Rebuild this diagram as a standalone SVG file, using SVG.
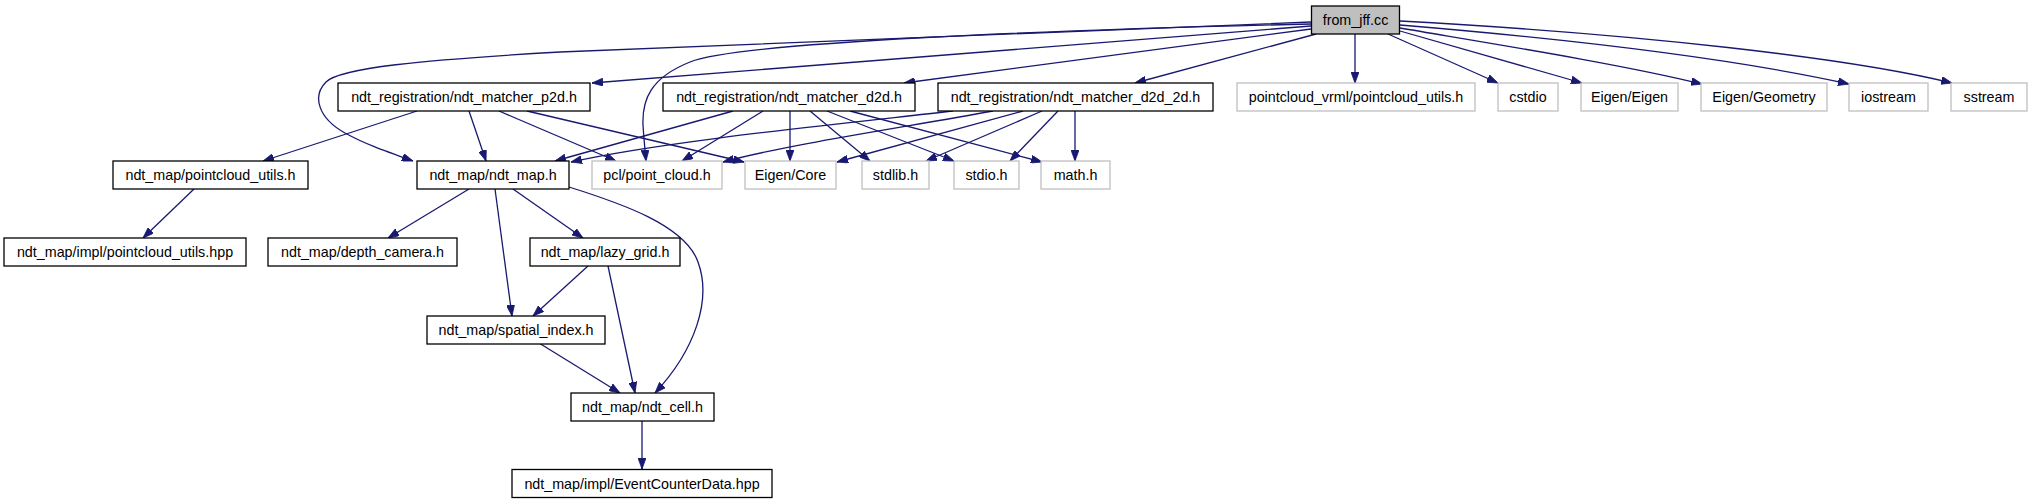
<svg xmlns="http://www.w3.org/2000/svg" width="2032" height="504" viewBox="0 0 2032 504">
<style>
.n rect{fill:#fff;stroke:#000;stroke-width:1.3}
.g rect{fill:#fff;stroke:#bfbfbf;stroke-width:1.3}
.r rect{fill:#bfbfbf;stroke:#000;stroke-width:1.3}
text{font-family:"Liberation Sans",Arial,sans-serif;font-size:14.3px;fill:#000;text-anchor:middle}
#edges path{fill:none;stroke:#191970;stroke-width:1.3;marker-end:url(#ah)}
</style>
<defs>
<marker id="ah" viewBox="0 0 11 8" refX="11" refY="4" markerWidth="11" markerHeight="8" markerUnits="userSpaceOnUse" orient="auto">
<path d="M0,0 L11,4 L0,8 z" fill="#191970" stroke="#191970" stroke-width="0.8"/>
</marker>
</defs>
<rect width="2032" height="504" fill="#fff"/>
<g id="edges">
<path d="M1311,22 L560,52 C420,60 340,68 326,82 C312,96 318,118 345,133 C365,144 385,151 413,161"/>
<path d="M1311,26 L592,83"/>
<path d="M1311,24 C1050,30 740,42 690,62 C650,78 642,100 643,125 C644,140 645,150 646,161"/>
<path d="M1311,29 L904,83"/>
<path d="M1316,34 L1135,83"/>
<path d="M1355,34 L1355,83"/>
<path d="M1388,34 L1498,83"/>
<path d="M1400,31 L1582,83"/>
<path d="M1400,28 C1500,45 1620,64 1702,84"/>
<path d="M1400,25 C1580,40 1740,60 1849,84"/>
<path d="M1400,21 C1640,34 1850,58 1952,83"/>
<path d="M417,111 L263,161"/>
<path d="M469,111 L486,161"/>
<path d="M499,111 L616,161"/>
<path d="M527,111 L744,162"/>
<path d="M733,111 L555,161"/>
<path d="M763,111 L682,161"/>
<path d="M790,111 L790,161"/>
<path d="M810,111 L870,161"/>
<path d="M827,111 L954,161"/>
<path d="M850,111 L1042,162"/>
<path d="M953,111 C820,126 660,142 571,162"/>
<path d="M993,111 C900,128 790,144 723,162"/>
<path d="M1023,111 L837,162"/>
<path d="M1042,111 L926,161"/>
<path d="M1058,111 L1010,161"/>
<path d="M1075,111 L1075,161"/>
<path d="M194,189 L143,238"/>
<path d="M469,189 L388,238"/>
<path d="M513,189 L583,238"/>
<path d="M495,189 L512,316"/>
<path d="M569,187 C620,203 685,225 698,262 C712,300 695,350 655,393"/>
<path d="M588,266 L533,316"/>
<path d="M608,266 L635,393"/>
<path d="M539,343 L620,393"/>
<path d="M642,421 L642,469"/>
</g>
<g id="from_jff" class="r"><rect x="1311.5" y="6" width="88" height="28"/><text x="1355.5" y="25">from_jff.cc</text></g>
<g id="p2d" class="n"><rect x="338" y="83" width="252" height="28"/><text x="464" y="102">ndt_registration/ndt_matcher_p2d.h</text></g>
<g id="d2d" class="n"><rect x="663" y="83" width="252" height="28"/><text x="789" y="102">ndt_registration/ndt_matcher_d2d.h</text></g>
<g id="d2d_2d" class="n"><rect x="938" y="83" width="275" height="28"/><text x="1075.5" y="102">ndt_registration/ndt_matcher_d2d_2d.h</text></g>
<g id="vrml" class="g"><rect x="1237" y="83" width="238" height="28"/><text x="1356" y="102">pointcloud_vrml/pointcloud_utils.h</text></g>
<g id="cstdio" class="g"><rect x="1498" y="83" width="60" height="28"/><text x="1528" y="102">cstdio</text></g>
<g id="eigen" class="g"><rect x="1581" y="83" width="97" height="28"/><text x="1629.5" y="102">Eigen/Eigen</text></g>
<g id="geometry" class="g"><rect x="1701" y="83" width="126" height="28"/><text x="1764" y="102">Eigen/Geometry</text></g>
<g id="iostream" class="g"><rect x="1849" y="83" width="79" height="28"/><text x="1888.5" y="102">iostream</text></g>
<g id="sstream" class="g"><rect x="1951" y="83" width="76" height="28"/><text x="1989" y="102">sstream</text></g>
<g id="pcutils" class="n"><rect x="113" y="161" width="195" height="28"/><text x="210.5" y="180">ndt_map/pointcloud_utils.h</text></g>
<g id="ndt_map" class="n"><rect x="417" y="161" width="152" height="28"/><text x="493" y="180">ndt_map/ndt_map.h</text></g>
<g id="pcl" class="g"><rect x="592" y="161" width="130" height="28"/><text x="657" y="180">pcl/point_cloud.h</text></g>
<g id="core" class="g"><rect x="745" y="161" width="91" height="28"/><text x="790.5" y="180">Eigen/Core</text></g>
<g id="stdlib" class="g"><rect x="862" y="161" width="67" height="28"/><text x="895.5" y="180">stdlib.h</text></g>
<g id="stdio" class="g"><rect x="954" y="161" width="65" height="28"/><text x="986.5" y="180">stdio.h</text></g>
<g id="math" class="g"><rect x="1041" y="161" width="69" height="28"/><text x="1075.5" y="180">math.h</text></g>
<g id="pcutils_hpp" class="n"><rect x="4" y="238" width="242" height="28"/><text x="125" y="257">ndt_map/impl/pointcloud_utils.hpp</text></g>
<g id="depth" class="n"><rect x="268" y="238" width="189" height="28"/><text x="362.5" y="257">ndt_map/depth_camera.h</text></g>
<g id="lazy" class="n"><rect x="530" y="238" width="150" height="28"/><text x="605" y="257">ndt_map/lazy_grid.h</text></g>
<g id="spatial" class="n"><rect x="427" y="316" width="178" height="28"/><text x="516" y="335">ndt_map/spatial_index.h</text></g>
<g id="cell" class="n"><rect x="571" y="393" width="143" height="28"/><text x="642.5" y="412">ndt_map/ndt_cell.h</text></g>
<g id="ecd" class="n"><rect x="512" y="469.5" width="260" height="28"/><text x="642" y="488.5">ndt_map/impl/EventCounterData.hpp</text></g>
</svg>
